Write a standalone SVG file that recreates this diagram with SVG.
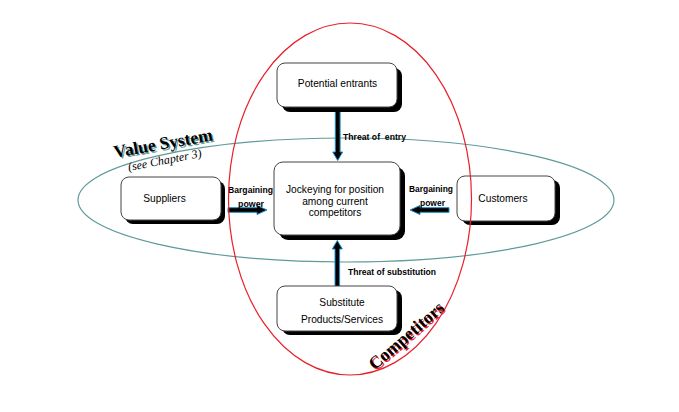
<svg xmlns="http://www.w3.org/2000/svg" width="679" height="412" viewBox="0 0 679 412">
<defs>
<style>
.bg{fill:#ffffff}
.shadow{fill:#000000}
.box{fill:#ffffff;stroke:#444444;stroke-width:1}
.lbl{font-family:"Liberation Sans",Arial,sans-serif;font-size:10.2px;fill:#000000;text-anchor:middle}
.conn{font-family:"Liberation Sans",Arial,sans-serif;font-size:9px;font-weight:bold;fill:#000000}
.arrow{fill:#000000;stroke:#1e8fc8;stroke-width:1;stroke-linejoin:miter}
.title{font-family:"Liberation Serif","Times New Roman",serif;font-weight:bold;font-size:17.5px}
</style>
</defs>
<rect class="bg" x="0" y="0" width="679" height="412"/>
<g id="value-system-ellipse">
<ellipse cx="346" cy="200" rx="268" ry="62" fill="none" stroke="#5f9a9a" stroke-width="1.2"/>
</g>
<g id="connectors">
<path class="arrow" d="M335.3,108 L340.1,108 L340.1,152 L342.7,152 L337.7,160.5 L332.7,152 L335.3,152 Z"/>
<path class="arrow" d="M335,286.5 L339.6,286.5 L339.6,249 L342.3,249 L337.3,240.5 L332.3,249 L335,249 Z"/>
<path class="arrow" d="M228,207.7 L257,207.7 L257,205.5 L267,210 L257,214.5 L257,212.3 L228,212.3 Z"/>
<path class="arrow" d="M449,207.7 L420,207.7 L420,205.5 L410,210 L420,214.5 L420,212.3 L449,212.3 Z"/>
<text class="conn" x="343" y="140" xml:space="preserve" textLength="63" lengthAdjust="spacingAndGlyphs">Threat of  entry</text>
<text class="conn" x="348" y="275" textLength="88" lengthAdjust="spacingAndGlyphs">Threat of substitution</text>
<text class="conn" x="228" y="193" textLength="45" lengthAdjust="spacingAndGlyphs">Bargaining</text>
<text class="conn" x="238" y="207" textLength="26" lengthAdjust="spacingAndGlyphs">power</text>
<text class="conn" x="409" y="192" textLength="44" lengthAdjust="spacingAndGlyphs">Bargaining</text>
<text class="conn" x="420" y="206" textLength="25" lengthAdjust="spacingAndGlyphs">power</text>
</g>
<g id="potential-entrants">
<rect class="shadow" x="282" y="68" width="120" height="44" rx="8"/>
<rect class="box" x="277" y="63" width="120" height="44" rx="8"/>
<text class="lbl" x="337.5" y="87">Potential entrants</text>
</g>
<g id="competitors-node">
<rect class="shadow" x="279" y="167" width="126" height="73" rx="9"/>
<rect class="box" x="274" y="162" width="126" height="73" rx="9"/>
<text class="lbl" x="335" y="193">Jockeying for position</text>
<text class="lbl" x="335" y="204.5">among current</text>
<text class="lbl" x="335" y="216">competitors</text>
</g>
<g id="suppliers">
<rect class="shadow" x="125" y="181" width="100" height="43" rx="8"/>
<rect class="box" x="121" y="177" width="100" height="43" rx="8"/>
<text class="lbl" x="164.5" y="202">Suppliers</text>
</g>
<g id="customers">
<rect class="shadow" x="462" y="180" width="98" height="45" rx="8"/>
<rect class="box" x="457" y="176" width="98" height="45" rx="8"/>
<text class="lbl" x="503" y="202">Customers</text>
</g>
<g id="substitutes">
<rect class="shadow" x="282" y="290" width="120" height="45" rx="8"/>
<rect class="box" x="277" y="286" width="120" height="45" rx="8"/>
<text class="lbl" x="342" y="306">Substitute</text>
<text class="lbl" x="342" y="323">Products/Services</text>
</g>
<g id="competitors-ellipse">
<ellipse cx="350" cy="199" rx="121.5" ry="176" fill="none" stroke="#e8202a" stroke-width="1.2"/>
</g>
<g id="value-system-label">
<text class="title" transform="translate(165.5,150.5) rotate(-10)" text-anchor="middle" fill="#5f9a9a">Value System</text>
<text class="title" transform="translate(164,149) rotate(-10)" text-anchor="middle" fill="#000000">Value System</text>
<text transform="translate(165.5,164) rotate(-11)" text-anchor="middle" font-family="'Liberation Serif','Times New Roman',serif" font-style="italic" font-size="12" fill="#000000">(see Chapter 3)</text>
</g>
<g id="competitors-label">
<text class="title" transform="translate(411.5,341.5) rotate(-41)" text-anchor="middle" fill="#e8202a">Competitors</text>
<text class="title" transform="translate(410,340) rotate(-41)" text-anchor="middle" fill="#000000">Competitors</text>
</g>
</svg>
